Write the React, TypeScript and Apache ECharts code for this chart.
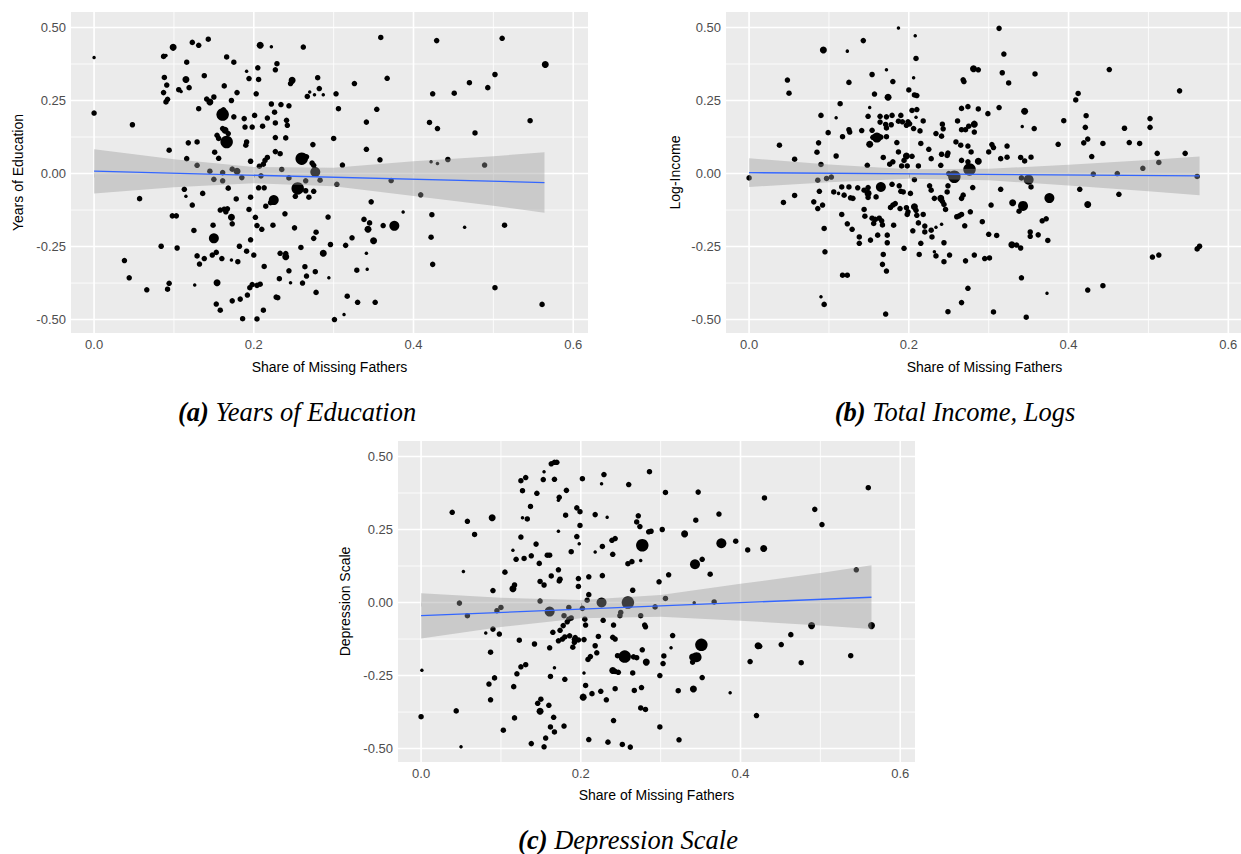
import React, { useEffect, useRef } from "react";
import * as echarts from "echarts";

// ---------- axis ticks ----------
const xTicks = [0, 0.2, 0.4, 0.6];
const xMinor = [0.1, 0.3, 0.5];
const yTicks = [-0.5, -0.25, 0, 0.25, 0.5];
const yMinor = [-0.375, -0.125, 0.125, 0.375];

// ---------- smoother (linear fit + 95% band) ----------
const ribbonX = [0, 0.1, 0.2, 0.3, 0.4, 0.5, 0.564];
const fitX = [0, 0.564];

const educLo = [-0.068, -0.047, -0.033, -0.044, -0.077, -0.110, -0.134];
const educHi = [0.083, 0.049, 0.022, 0.020, 0.042, 0.059, 0.073];
const educFit = [0.008, -0.031];

const incomeLo = [-0.046, -0.030, -0.018, -0.023, -0.041, -0.061, -0.074];
const incomeHi = [0.052, 0.031, 0.015, 0.016, 0.030, 0.046, 0.058];
const incomeFit = [0.003, -0.008];

const depLo = [-0.123, -0.084, -0.054, -0.049, -0.062, -0.079, -0.091];
const depHi = [0.032, 0.016, 0.009, 0.026, 0.064, 0.101, 0.128];
const depFit = [-0.045, 0.018];

// ---------- points [share of missing fathers, value, weight class] ----------
const educationPoints = [
  [0.000,0.397,1],[0.000,0.207,2],[0.048,0.167,2],[0.087,0.401,2],[0.090,0.404,1],[0.099,0.432,3],
  [0.088,0.329,2],[0.091,0.303,2],[0.087,0.277,2],[0.092,0.254,2],[0.090,0.245,2],[0.094,0.080,2],
  [0.123,0.449,2],[0.131,0.439,2],[0.143,0.460,2],[0.116,0.381,2],[0.115,0.322,3],[0.119,0.294,2],
  [0.106,0.287,2],[0.109,0.281,1],[0.138,0.335,2],[0.131,0.222,2],[0.141,0.255,2],[0.145,0.245,3],
  [0.150,0.262,2],[0.118,0.105,2],[0.129,0.108,2],[0.116,0.051,2],[0.151,0.073,2],[0.156,0.052,2],
  [0.129,0.028,2],[0.166,0.399,2],[0.175,0.381,2],[0.163,0.300,2],[0.179,0.277,2],[0.172,0.250,2],
  [0.161,0.202,5],[0.162,0.218,2],[0.175,0.194,2],[0.161,0.154,2],[0.164,0.148,3],[0.154,0.131,2],
  [0.156,0.120,2],[0.166,0.108,5],[0.168,0.137,2],[0.188,0.188,2],[0.189,0.159,2],[0.191,0.108,2],
  [0.190,0.097,2],[0.198,0.159,2],[0.201,0.199,2],[0.196,0.042,2],[0.191,0.350,1],[0.194,0.325,2],
  [0.205,0.362,2],[0.206,0.322,2],[0.203,0.273,2],[0.208,0.439,3],[0.222,0.434,1],[0.229,0.376,2],
  [0.227,0.355,2],[0.211,0.162,2],[0.217,0.190,2],[0.222,0.238,2],[0.226,0.210,2],[0.234,0.236,2],
  [0.244,0.232,2],[0.227,0.173,2],[0.227,0.123,2],[0.241,0.182,2],[0.242,0.165,2],[0.240,0.122,2],
  [0.227,0.075,2],[0.233,0.068,2],[0.217,0.055,2],[0.214,0.045,2],[0.212,0.032,2],[0.207,0.025,2],
  [0.248,0.319,3],[0.246,0.308,2],[0.235,0.014,2],[0.280,0.328,2],[0.282,0.291,2],[0.267,0.264,2],
  [0.270,0.279,1],[0.276,0.270,1],[0.287,0.270,1],[0.262,0.433,2],[0.274,0.099,2],[0.260,0.051,5],
  [0.266,0.057,2],[0.273,0.036,2],[0.275,0.028,2],[0.277,0.005,4],[0.300,0.120,2],[0.303,0.273,2],
  [0.306,0.222,2],[0.311,0.029,2],[0.359,0.466,2],[0.367,0.326,2],[0.326,0.308,2],[0.354,0.220,2],
  [0.341,0.176,2],[0.341,0.083,2],[0.358,0.047,2],[0.429,0.455,2],[0.511,0.463,2],[0.565,0.373,3],
  [0.424,0.273,2],[0.451,0.275,2],[0.470,0.311,2],[0.493,0.294,2],[0.502,0.339,2],[0.420,0.175,2],
  [0.430,0.154,2],[0.477,0.139,2],[0.546,0.181,2],[0.422,0.040,1],[0.430,0.034,1],[0.443,0.048,2],
  [0.489,0.029,2],[0.145,0.008,2],[0.161,0.003,2],[0.150,-0.020,2],[0.161,-0.025,2],[0.173,0.015,2],
  [0.179,0.008,3],[0.185,-0.014,2],[0.209,-0.008,2],[0.244,-0.015,2],[0.265,-0.025,2],[0.283,-0.023,2],
  [0.304,-0.037,2],[0.113,-0.054,2],[0.115,-0.078,1],[0.057,-0.086,2],[0.136,-0.068,2],[0.168,-0.050,2],
  [0.178,-0.087,2],[0.196,-0.081,2],[0.206,-0.049,2],[0.213,-0.049,2],[0.225,-0.091,4],[0.221,-0.100,2],
  [0.215,-0.112,2],[0.255,-0.051,5],[0.265,-0.059,2],[0.275,-0.061,2],[0.252,-0.078,2],[0.269,-0.081,2],
  [0.123,-0.108,2],[0.158,-0.125,2],[0.163,-0.122,2],[0.167,-0.121,2],[0.165,-0.131,2],[0.172,-0.150,3],
  [0.173,-0.172,2],[0.194,-0.123,2],[0.202,-0.150,2],[0.204,-0.178,2],[0.210,-0.191,2],[0.224,-0.177,2],
  [0.239,-0.138,2],[0.251,-0.186,2],[0.293,-0.149,2],[0.098,-0.145,2],[0.103,-0.145,2],[0.125,-0.195,2],
  [0.149,-0.177,2],[0.150,-0.222,4],[0.196,-0.227,2],[0.182,-0.249,2],[0.191,-0.266,2],[0.200,-0.279,2],
  [0.213,-0.318,2],[0.259,-0.253,2],[0.275,-0.222,2],[0.278,-0.201,2],[0.287,-0.273,3],[0.296,-0.243,2],
  [0.233,-0.273,2],[0.240,-0.274,2],[0.240,-0.285,3],[0.084,-0.249,2],[0.104,-0.255,2],[0.038,-0.298,2],
  [0.044,-0.357,2],[0.066,-0.398,2],[0.092,-0.396,2],[0.094,-0.376,2],[0.129,-0.282,2],[0.132,-0.310,2],
  [0.138,-0.291,2],[0.148,-0.279,2],[0.153,-0.270,2],[0.160,-0.291,2],[0.172,-0.296,1],[0.180,-0.302,2],
  [0.126,-0.382,1],[0.154,-0.374,3],[0.153,-0.447,2],[0.158,-0.468,2],[0.173,-0.436,2],[0.183,-0.430,2],
  [0.192,-0.416,2],[0.195,-0.391,2],[0.198,-0.380,2],[0.204,-0.383,2],[0.208,-0.379,2],[0.186,-0.497,2],
  [0.204,-0.498,2],[0.212,-0.468,2],[0.228,-0.423,2],[0.230,-0.425,2],[0.232,-0.360,2],[0.244,-0.333,2],
  [0.246,-0.374,1],[0.261,-0.375,2],[0.264,-0.319,2],[0.266,-0.351,2],[0.277,-0.336,2],[0.278,-0.407,2],
  [0.294,-0.357,1],[0.301,-0.500,2],[0.372,-0.024,2],[0.409,-0.073,2],[0.347,-0.097,2],[0.387,-0.132,1],
  [0.423,-0.141,2],[0.338,-0.157,2],[0.345,-0.169,2],[0.343,-0.191,3],[0.362,-0.178,2],[0.376,-0.179,4],
  [0.350,-0.230,3],[0.323,-0.220,2],[0.315,-0.246,2],[0.422,-0.218,2],[0.464,-0.184,1],[0.514,-0.177,2],
  [0.341,-0.273,1],[0.424,-0.311,2],[0.329,-0.331,2],[0.342,-0.328,1],[0.317,-0.420,2],[0.330,-0.441,2],
  [0.352,-0.441,2],[0.313,-0.483,1],[0.502,-0.391,2],[0.561,-0.448,2],
];

const incomePoints = [
  [0.187,0.498,1],[0.208,0.472,1],[0.143,0.455,2],[0.093,0.423,3],[0.123,0.419,1],[0.209,0.394,2],
  [0.048,0.320,2],[0.050,0.275,2],[0.125,0.312,2],[0.154,0.339,2],[0.172,0.355,1],[0.180,0.315,2],
  [0.206,0.328,1],[0.157,0.272,2],[0.174,0.261,3],[0.200,0.286,2],[0.207,0.269,2],[0.210,0.267,2],
  [0.114,0.239,2],[0.090,0.199,2],[0.109,0.191,1],[0.151,0.226,1],[0.038,0.097,2],[0.057,0.049,2],
  [0.099,0.140,2],[0.087,0.105,2],[0.085,0.073,2],[0.117,0.126,2],[0.109,0.060,2],[0.125,0.150,2],
  [0.126,0.142,2],[0.141,0.147,2],[0.149,0.196,2],[0.164,0.196,2],[0.172,0.194,2],[0.179,0.199,2],
  [0.190,0.199,2],[0.164,0.176,2],[0.171,0.168,2],[0.178,0.167,2],[0.154,0.148,2],[0.172,0.156,2],
  [0.187,0.179,2],[0.192,0.177,2],[0.199,0.177,2],[0.197,0.165,2],[0.201,0.170,2],[0.204,0.216,2],
  [0.210,0.219,2],[0.209,0.193,1],[0.218,0.180,2],[0.160,0.123,4],[0.155,0.124,2],[0.165,0.125,2],
  [0.172,0.126,2],[0.151,0.100,3],[0.185,0.106,2],[0.206,0.154,2],[0.215,0.103,2],[0.214,0.146,2],
  [0.187,0.074,2],[0.197,0.060,3],[0.194,0.045,2],[0.204,0.059,2],[0.168,0.055,2],[0.176,0.032,2],
  [0.180,0.040,2],[0.191,0.026,2],[0.198,0.026,2],[0.212,0.026,2],[0.148,0.028,2],[0.090,0.031,2],
  [0.234,0.137,2],[0.241,0.128,2],[0.242,0.169,2],[0.243,0.153,2],[0.225,0.083,2],[0.228,0.051,2],
  [0.241,0.066,2],[0.248,0.062,2],[0.249,0.070,2],[0.240,0.028,2],[0.250,0.000,2],[0.261,0.180,2],
  [0.266,0.223,2],[0.274,0.229,2],[0.268,0.321,2],[0.269,0.315,2],[0.281,0.359,3],[0.287,0.355,2],
  [0.287,0.221,2],[0.299,0.205,2],[0.266,0.150,2],[0.271,0.150,2],[0.275,0.162,2],[0.282,0.169,3],
  [0.282,0.142,2],[0.259,0.108,2],[0.265,0.097,2],[0.274,0.094,2],[0.278,0.074,2],[0.266,0.045,2],
  [0.274,0.040,2],[0.287,0.042,3],[0.276,0.014,5],[0.300,0.074,2],[0.313,0.497,2],[0.319,0.409,2],
  [0.317,0.345,2],[0.325,0.310,2],[0.358,0.341,2],[0.451,0.356,2],[0.539,0.283,2],[0.412,0.274,2],
  [0.409,0.252,2],[0.313,0.226,2],[0.345,0.213,3],[0.342,0.161,1],[0.357,0.154,2],[0.394,0.181,2],
  [0.422,0.198,2],[0.421,0.158,2],[0.424,0.118,2],[0.419,0.105,2],[0.387,0.100,2],[0.443,0.103,2],
  [0.470,0.155,2],[0.476,0.106,2],[0.489,0.103,2],[0.502,0.188,2],[0.502,0.158,2],[0.511,0.069,2],
  [0.546,0.069,2],[0.429,0.058,2],[0.304,0.099,2],[0.306,0.089,2],[0.323,0.094,2],[0.315,0.051,2],
  [0.323,0.056,2],[0.340,0.055,2],[0.345,0.043,2],[0.353,0.056,2],[0.493,0.018,2],[0.513,0.038,2],
  [0.431,-0.002,2],[0.461,0.000,2],[0.000,-0.015,2],[0.043,-0.099,2],[0.057,-0.075,2],[0.081,-0.097,2],
  [0.086,-0.120,2],[0.092,-0.108,2],[0.088,-0.061,2],[0.094,-0.188,2],[0.095,-0.268,2],[0.090,-0.422,1],
  [0.094,-0.448,2],[0.086,-0.023,2],[0.097,-0.017,2],[0.103,-0.012,2],[0.106,-0.063,2],[0.112,-0.068,1],
  [0.116,-0.046,2],[0.119,-0.074,2],[0.125,-0.046,2],[0.127,-0.083,2],[0.130,-0.085,2],[0.116,-0.140,2],
  [0.123,-0.172,2],[0.129,-0.191,2],[0.117,-0.348,2],[0.123,-0.348,2],[0.138,-0.217,2],[0.138,-0.239,2],
  [0.136,-0.049,2],[0.144,-0.057,2],[0.149,-0.048,2],[0.149,-0.068,3],[0.149,-0.082,2],[0.144,-0.123,2],
  [0.145,-0.146,2],[0.152,-0.228,2],[0.154,-0.153,2],[0.158,-0.157,2],[0.156,-0.171,2],[0.163,-0.153,2],
  [0.166,-0.162,2],[0.167,-0.176,2],[0.161,-0.211,2],[0.165,-0.046,4],[0.167,-0.048,2],[0.159,-0.080,2],
  [0.168,-0.277,2],[0.167,-0.311,2],[0.172,-0.334,2],[0.171,-0.481,2],[0.173,-0.211,2],[0.173,-0.237,2],
  [0.179,-0.037,2],[0.177,-0.116,2],[0.180,-0.108,2],[0.183,-0.103,2],[0.181,-0.177,2],[0.188,-0.042,2],
  [0.190,-0.061,2],[0.193,-0.063,2],[0.189,-0.120,2],[0.194,-0.256,2],[0.197,-0.117,2],[0.199,-0.131,2],
  [0.198,-0.140,2],[0.202,-0.068,2],[0.205,-0.196,2],[0.207,-0.021,2],[0.207,-0.114,3],[0.209,-0.126,2],
  [0.210,-0.143,2],[0.212,-0.169,2],[0.213,-0.277,2],[0.215,-0.239,2],[0.218,-0.140,2],[0.220,-0.180,2],
  [0.220,-0.200,2],[0.226,-0.042,2],[0.228,-0.057,2],[0.228,-0.194,2],[0.229,-0.217,2],[0.234,-0.184,1],
  [0.232,-0.268,1],[0.234,-0.282,2],[0.232,-0.085,2],[0.240,-0.085,3],[0.242,-0.095,2],[0.241,-0.174,1],
  [0.244,-0.106,2],[0.246,-0.123,2],[0.244,-0.237,2],[0.244,-0.302,2],[0.249,-0.473,2],[0.251,-0.279,2],
  [0.248,-0.063,2],[0.249,-0.042,2],[0.257,-0.011,5],[0.260,-0.148,2],[0.263,-0.145,2],[0.266,-0.140,2],
  [0.266,-0.085,2],[0.268,-0.074,2],[0.270,-0.179,2],[0.271,-0.299,2],[0.266,-0.442,2],[0.274,-0.393,2],
  [0.277,-0.131,2],[0.280,-0.048,2],[0.282,-0.279,2],[0.292,-0.165,2],[0.295,-0.291,2],[0.301,-0.289,2],
  [0.300,-0.208,2],[0.341,-0.015,2],[0.350,-0.021,4],[0.315,-0.054,2],[0.353,-0.046,2],[0.303,-0.108,2],
  [0.330,-0.100,3],[0.343,-0.111,4],[0.338,-0.129,2],[0.376,-0.084,4],[0.367,-0.162,2],[0.372,-0.155,2],
  [0.310,-0.212,2],[0.352,-0.200,2],[0.352,-0.215,2],[0.362,-0.210,2],[0.374,-0.229,2],[0.329,-0.244,3],
  [0.335,-0.245,2],[0.340,-0.255,2],[0.414,-0.054,2],[0.424,-0.106,3],[0.463,-0.071,2],[0.561,-0.010,2],
  [0.561,-0.258,2],[0.564,-0.249,2],[0.505,-0.286,2],[0.513,-0.279,2],[0.341,-0.357,2],[0.373,-0.410,1],
  [0.424,-0.399,2],[0.443,-0.384,2],[0.306,-0.474,2],[0.347,-0.492,2],
];

const depressionPoints = [
  [0.039,0.309,2],[0.058,0.278,2],[0.067,0.233,2],[0.089,0.290,3],[0.053,0.106,1],[0.090,0.041,2],
  [0.105,0.104,2],[0.115,0.179,1],[0.119,0.148,2],[0.129,0.151,2],[0.138,0.160,2],[0.115,0.047,3],
  [0.117,0.060,2],[0.125,0.224,2],[0.127,0.290,1],[0.133,0.286,2],[0.137,0.329,2],[0.125,0.417,2],
  [0.131,0.428,2],[0.127,0.383,2],[0.145,0.374,2],[0.154,0.448,1],[0.153,0.421,2],[0.167,0.422,2],
  [0.163,0.475,2],[0.167,0.480,2],[0.170,0.480,2],[0.144,0.200,2],[0.148,0.134,2],[0.158,0.162,2],
  [0.161,0.162,2],[0.163,0.091,2],[0.149,0.072,2],[0.154,0.060,2],[0.172,0.244,1],[0.172,0.112,2],
  [0.173,0.074,2],[0.174,0.080,2],[0.173,0.360,2],[0.172,0.350,1],[0.182,0.384,2],[0.181,0.299,2],
  [0.188,0.174,2],[0.195,0.324,2],[0.199,0.311,2],[0.199,0.264,2],[0.195,0.226,2],[0.198,0.201,1],
  [0.202,0.424,2],[0.197,0.082,2],[0.197,0.055,2],[0.210,0.088,2],[0.218,0.301,2],[0.218,0.173,1],
  [0.210,0.027,2],[0.208,0.008,2],[0.227,0.192,2],[0.227,0.092,2],[0.229,0.438,2],[0.226,0.407,1],
  [0.233,0.292,1],[0.239,0.213,2],[0.243,0.219,2],[0.240,0.165,2],[0.260,0.404,2],[0.272,0.297,2],
  [0.270,0.276,2],[0.274,0.260,2],[0.285,0.242,2],[0.288,0.244,2],[0.277,0.196,5],[0.259,0.133,2],
  [0.264,0.140,2],[0.275,0.144,1],[0.286,0.448,2],[0.265,0.042,2],[0.298,0.071,2],[0.226,0.000,4],
  [0.259,0.000,5],[0.149,0.005,2],[0.048,-0.002,2],[0.306,0.377,2],[0.347,0.378,2],[0.430,0.358,2],
  [0.560,0.393,2],[0.493,0.319,2],[0.502,0.267,2],[0.373,0.303,2],[0.344,0.282,2],[0.302,0.250,2],
  [0.330,0.235,3],[0.376,0.203,4],[0.394,0.210,2],[0.409,0.180,2],[0.429,0.185,3],[0.343,0.131,4],
  [0.352,0.148,2],[0.310,0.095,2],[0.362,0.097,2],[0.545,0.112,2],[0.306,0.014,2],[0.342,-0.001,1],
  [0.367,0.002,2],[0.058,-0.045,2],[0.001,-0.232,1],[0.000,-0.391,2],[0.044,-0.371,2],[0.050,-0.494,1],
  [0.081,-0.104,1],[0.090,-0.091,2],[0.098,-0.108,2],[0.095,-0.028,2],[0.100,-0.017,2],[0.087,-0.170,2],
  [0.085,-0.279,2],[0.092,-0.258,2],[0.087,-0.333,2],[0.103,-0.437,2],[0.117,-0.395,2],[0.116,-0.288,2],
  [0.120,-0.244,2],[0.125,-0.220,2],[0.131,-0.213,2],[0.123,-0.129,2],[0.142,-0.142,2],[0.138,-0.483,2],
  [0.154,-0.494,2],[0.156,-0.464,2],[0.162,-0.426,2],[0.167,-0.443,2],[0.166,-0.393,2],[0.146,-0.345,2],
  [0.150,-0.331,2],[0.149,-0.372,3],[0.160,-0.352,2],[0.161,-0.155,2],[0.162,-0.253,2],[0.167,-0.223,1],
  [0.165,-0.102,2],[0.172,-0.131,2],[0.177,-0.125,2],[0.180,-0.118,2],[0.174,-0.095,2],[0.178,-0.079,2],
  [0.183,-0.066,2],[0.185,-0.057,2],[0.180,-0.263,2],[0.179,-0.423,2],[0.179,-0.045,2],[0.188,-0.053,2],
  [0.161,-0.031,4],[0.186,-0.114,2],[0.192,-0.126,2],[0.193,-0.120,2],[0.190,-0.153,2],[0.192,-0.136,2],
  [0.197,-0.128,2],[0.204,-0.127,2],[0.205,-0.057,2],[0.206,-0.077,2],[0.203,-0.324,3],[0.204,-0.241,1],
  [0.206,-0.284,2],[0.210,-0.469,2],[0.209,-0.195,2],[0.212,-0.185,2],[0.214,-0.312,2],[0.218,-0.148,2],
  [0.220,-0.172,2],[0.222,-0.116,2],[0.225,-0.304,2],[0.228,-0.061,2],[0.232,-0.333,2],[0.234,-0.478,2],
  [0.240,-0.233,3],[0.243,-0.236,2],[0.241,-0.404,2],[0.243,-0.295,2],[0.241,-0.077,2],[0.240,-0.119,2],
  [0.243,-0.125,2],[0.246,-0.182,2],[0.247,-0.239,2],[0.249,-0.045,2],[0.252,-0.486,2],[0.255,-0.185,5],
  [0.252,-0.193,2],[0.262,-0.495,2],[0.265,-0.241,2],[0.266,-0.186,2],[0.270,-0.189,2],[0.267,-0.301,2],
  [0.276,-0.291,2],[0.277,-0.162,2],[0.282,-0.204,3],[0.275,-0.361,2],[0.281,-0.366,2],[0.275,-0.045,2],
  [0.280,-0.077,2],[0.281,-0.083,2],[0.293,-0.015,2],[0.299,-0.426,2],[0.299,-0.250,2],[0.202,-0.020,2],
  [0.185,-0.017,2],[0.250,-0.034,2],[0.315,-0.113,2],[0.313,-0.155,1],[0.304,-0.183,2],[0.303,-0.209,2],
  [0.351,-0.145,5],[0.340,-0.187,3],[0.345,-0.187,4],[0.340,-0.204,2],[0.352,-0.257,2],[0.341,-0.296,3],
  [0.322,-0.302,2],[0.387,-0.309,1],[0.323,-0.470,2],[0.420,-0.387,2],[0.412,-0.202,2],[0.422,-0.148,3],
  [0.424,-0.150,2],[0.451,-0.144,2],[0.463,-0.110,2],[0.476,-0.206,2],[0.489,-0.079,3],[0.538,-0.182,2],
  [0.564,-0.079,3],
];

const panelTitles = ["Years of Education", "Log-Income", "Depression Scale"];
const xTitle = "Share of Missing Fathers";

const SIZE = [0, 3.5, 5.5, 7, 10, 12.5];
const SANS = "'Liberation Sans', Arial, sans-serif";
const SERIF = "'Liberation Serif', 'DejaVu Serif', serif";

export default function App() {
  const ref = useRef<HTMLDivElement>(null);
  useEffect(() => {
    const chart = echarts.init(ref.current!, null, { renderer: "svg" });

    const rects = [
      { left: 71, top: 12, width: 517, height: 321, xMax: 0.6185 },
      { left: 726, top: 12, width: 515, height: 321, xMax: 0.6159 },
      { left: 398, top: 441, width: 517, height: 321, xMax: 0.6185 },
    ];
    const yMin = -0.546;
    const yMax = 0.553;
    const xMin = -0.0289;
    const grids = rects.map((r) => ({
      left: r.left, top: r.top, width: r.width, height: r.height,
      show: true, backgroundColor: "#EBEBEB", borderWidth: 0,
      outerBoundsMode: "none", containLabel: false,
    }));
    const xAxes = rects.map((r, i) => ({
      type: "value", gridIndex: i, min: xMin, max: r.xMax,
      axisLine: { show: false }, splitLine: { show: false },
      axisTick: { show: true, customValues: xTicks, length: 4, lineStyle: { color: "#333333", width: 1 } },
      axisLabel: { customValues: xTicks, formatter: (v: number) => v.toFixed(1), color: "#4D4D4D", fontSize: 13, margin: 5, fontFamily: SANS },
    }));
    const yAxes = rects.map((r, i) => ({
      type: "value", gridIndex: i, min: yMin, max: yMax,
      axisLine: { show: false }, splitLine: { show: false },
      axisTick: { show: true, customValues: yTicks, length: 4, lineStyle: { color: "#333333", width: 1 } },
      axisLabel: { customValues: yTicks, formatter: (v: number) => v.toFixed(2), color: "#4D4D4D", fontSize: 13, margin: 5, fontFamily: SANS },
    }));

    const panels = [
      { pts: educationPoints, lo: educLo, hi: educHi, fit: educFit },
      { pts: incomePoints, lo: incomeLo, hi: incomeHi, fit: incomeFit },
      { pts: depressionPoints, lo: depLo, hi: depHi, fit: depFit },
    ];

    const series: any[] = [];
    panels.forEach((p, i) => {
      const xMax = rects[i].xMax;
      // gridlines drawn through the axes' own scales
      series.push({
        type: "custom", xAxisIndex: i, yAxisIndex: i, z: 1, silent: true,
        data: [[0, 0]],
        renderItem: (params: any, api: any) => {
          const children: any[] = [];
          const vline = (v: number, w: number) => {
            const a = api.coord([v, yMin]);
            const b = api.coord([v, yMax]);
            children.push({ type: "line", shape: { x1: a[0], y1: a[1], x2: b[0], y2: b[1] }, style: { stroke: "#FFFFFF", lineWidth: w } });
          };
          const hline = (v: number, w: number) => {
            const a = api.coord([xMin, v]);
            const b = api.coord([xMax, v]);
            children.push({ type: "line", shape: { x1: a[0], y1: a[1], x2: b[0], y2: b[1] }, style: { stroke: "#FFFFFF", lineWidth: w } });
          };
          xMinor.forEach((v) => vline(v, 0.8));
          yMinor.forEach((v) => hline(v, 0.8));
          xTicks.forEach((v) => vline(v, 1.6));
          yTicks.forEach((v) => hline(v, 1.6));
          return { type: "group", children };
        },
      });
      series.push({
        type: "scatter", xAxisIndex: i, yAxisIndex: i, z: 2, silent: true,
        data: p.pts.map((d) => [d[0], d[1], d[2]]),
        symbol: "circle",
        symbolSize: (val: number[]) => SIZE[val[2]],
        itemStyle: { color: "#000000", opacity: 1 },
      });
      series.push({
        type: "custom", xAxisIndex: i, yAxisIndex: i, z: 3, silent: true,
        data: ribbonX.map((x, k) => [x, p.lo[k], p.hi[k]]),
        encode: { x: 0, y: [1, 2] },
        renderItem: (params: any, api: any) => {
          if (params.dataIndex !== 0) return null;
          const pts: number[][] = [];
          ribbonX.forEach((x, k) => pts.push(api.coord([x, p.hi[k]])));
          for (let k = ribbonX.length - 1; k >= 0; k--) pts.push(api.coord([ribbonX[k], p.lo[k]]));
          return { type: "polygon", shape: { points: pts }, style: { fill: "#999999", opacity: 0.4 } };
        },
      });
      series.push({
        type: "line", xAxisIndex: i, yAxisIndex: i, z: 4, silent: true,
        data: fitX.map((x, k) => [x, p.fit[k]]),
        symbol: "none", showSymbol: false, lineStyle: { color: "#3366FF", width: 1.3 },
      });
    });

    const txt = (text: string, x: number, y: number, rot = 0) => ({
      type: "text", x, y, rotation: rot, silent: true,
      style: { text, fill: "#000000", fontSize: 14, fontFamily: SANS, align: "center", verticalAlign: "middle" },
    });
    const FS = 26.5;
    const caption = (tag: string, text: string, x: number, y: number) => ({
      type: "text", x, y, silent: true,
      style: {
        text: `{b|${tag}} {i|${text}}`,
        fontSize: FS, fontFamily: SERIF, fontStyle: "italic", fill: "#000",
        align: "center", verticalAlign: "middle",
        rich: {
          b: { fontWeight: "bold", fontStyle: "italic", fontSize: FS, fontFamily: SERIF, fill: "#000", color: "#000" },
          i: { fontStyle: "italic", fontSize: FS, fontFamily: SERIF, fill: "#000", color: "#000" },
        },
      },
    });

    chart.setOption({
      animation: false,
      backgroundColor: "#FFFFFF",
      grid: grids,
      xAxis: xAxes,
      yAxis: yAxes,
      series,
      graphic: [
        txt(xTitle, 329.5, 367),
        txt(xTitle, 984.5, 367),
        txt(xTitle, 656.5, 795),
        txt(panelTitles[0], 18, 172.5, Math.PI / 2),
        txt(panelTitles[1], 675, 172.5, Math.PI / 2),
        txt(panelTitles[2], 345, 601.5, Math.PI / 2),
        caption("(a)", "Years of Education", 297, 412),
        caption("(b)", "Total Income, Logs", 955, 412),
        caption("(c)", "Depression Scale", 628, 840),
      ],
    });
    return () => chart.dispose();
  }, []);
  return (
    <div
      ref={ref}
      style={{ position: "fixed", left: 0, top: 0, width: 1241, height: 854, background: "#fff" }}
    />
  );
}
